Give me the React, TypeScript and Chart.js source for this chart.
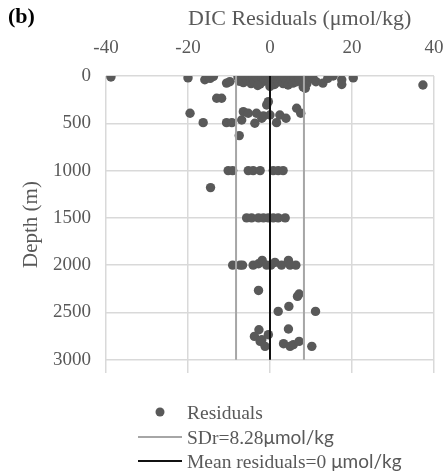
import { useEffect, useRef } from "react";
import { Chart, registerables } from "chart.js";

Chart.register(...registerables);

// DIC residuals (µmol/kg) and their sample depths (m)
const residuals = [
  -38.8, -20.0, -15.9, -14.6, -13.8, -10.6, -9.8,
  -7.8, -7.5, -7.0, -6.5, -6.0, -5.5, -5.0, -4.6, -4.2, -3.8, -3.3, -2.8, -2.4, -2.0,
  -1.5, -1.0, -0.6, -0.2, 0.3, 0.7, 1.1, 1.5, 2.0, 2.4, 2.8, 3.2, 3.6, 4.0, 4.4, 4.8,
  5.2, 5.6, 6.0, 6.5, 7.0, -3.0, 0.0,
  8.1, 8.5, 8.8, 9.0, 8.6, 9.3, 9.8, 10.5, 11.2, 12.9, 14.1, 15.4, 17.5, 17.5, 20.3, 37.3,
  -13.0, -11.8, -19.5, -16.3, -10.6, -9.3, -7.5, -6.9, -6.5, -5.3, -3.7, -3.3, -2.0, -1.6,
  -0.8, -0.4, 0.0, 1.6, 2.4, 3.9, 6.5, 7.5,
  -10.2, -9.1, -5.3, -4.1, -2.4, 0.8, 2.0, 3.2,
  -14.5,
  -5.7, -4.5, -2.8, -1.6, -0.4, 0.8, 2.0, 3.7,
  -9.1, -7.3, -6.7, -4.1, -2.8, -1.9, -0.8, 0.2, 1.2, 2.8, 4.5, 4.9, 6.3,
  -2.8, 6.7, 7.1, 4.6, 2.0, 11.1, -2.7, 4.5, -3.8, -2.0, -0.4, -2.4, -1.2, 3.3, 4.9, 5.7, 7.1, 10.2,
];
const depths = [
  10, 20, 40, 25, 5, 75, 60,
  10, 55, 30, 70, 15, 45, 5, 80, 30, 60, 10, 40, 85, 20,
  55, 5, 35, 70, 15, 50, 90, 25, 60, 5, 40, 80, 20, 55, 95, 10,
  45, 75, 25, 60, 30, 100, 110,
  115, 60, 30, 80, 130, 40, 10, 25, 60, 75, 25, 0, 40, 90, 20, 95,
  235, 235, 394, 493, 493, 493, 630, 465, 377, 394, 500, 394, 447, 422,
  306, 271, 412, 493, 412, 447, 341, 394,
  1000, 1000, 1000, 1000, 1000, 1000, 1000, 1000,
  1180,
  1500, 1500, 1500, 1500, 1500, 1500, 1500, 1500,
  2000, 2000, 2000, 2000, 1985, 1950, 2000, 2000, 1970, 2000, 1950, 2000, 2000,
  2267, 2330, 2305, 2436, 2489, 2489, 2683, 2675, 2753, 2788, 2735, 2806, 2858, 2830, 2858, 2840, 2806, 2858,
];

const xTicks = [-40, -20, 0, 20, 40];
const yTicks = [0, 500, 1000, 1500, 2000, 2500, 3000];
const sdr = 8.28;
const meanResidual = 0;
const lineDepths = [0, 3000];
const legendLabels = ["Residuals", "SDr=8.28", "Mean residuals=0 "];
const legendUnits = ["", "μmol/kg", "μmol/kg"];

const SERIF = "'Liberation Serif', 'Times New Roman', serif";
const SANS = "Lato, 'Liberation Sans', sans-serif";
const TEXT = "#595959";
const GRID = "#d9d9d9";
const SD_COLOR = "#a6a6a6";
const MEAN_COLOR = "#111111";
const POINT_COLOR = "#595959";

const textPlugin = {
  id: "textPlugin",
  afterDraw(chart: any) {
    const ctx = chart.ctx as CanvasRenderingContext2D;
    ctx.save();
    // panel label
    ctx.fillStyle = "#000";
    ctx.font = `bold 22px ${SERIF}`;
    ctx.textAlign = "left";
    ctx.textBaseline = "alphabetic";
    ctx.fillText("(b)", 8, 23);
    // axis title
    ctx.fillStyle = TEXT;
    ctx.font = `22px ${SERIF}`;
    ctx.fillText("DIC Residuals (μmol/kg)", 188, 25);

    // legend
    const rows = [412, 437, 461];
    const textX = 187;
    ctx.fillStyle = POINT_COLOR;
    ctx.beginPath();
    ctx.arc(160, rows[0], 4.5, 0, Math.PI * 2);
    ctx.fill();
    ctx.lineWidth = 2;
    ctx.strokeStyle = SD_COLOR;
    ctx.beginPath();
    ctx.moveTo(138, rows[1]);
    ctx.lineTo(182, rows[1]);
    ctx.stroke();
    ctx.strokeStyle = MEAN_COLOR;
    ctx.beginPath();
    ctx.moveTo(138, rows[2]);
    ctx.lineTo(182, rows[2]);
    ctx.stroke();

    ctx.fillStyle = TEXT;
    legendLabels.forEach((lab, i) => {
      ctx.font = `19.5px ${SERIF}`;
      const y = rows[i] + 6.5;
      ctx.fillText(lab, textX, y);
      const w = ctx.measureText(lab).width;
      if (legendUnits[i]) {
        ctx.font = `19px ${SANS}`;
        ctx.fillText(legendUnits[i], textX + w, y);
      }
    });
    ctx.restore();
  },
};

export default function App() {
  const ref = useRef<HTMLCanvasElement | null>(null);

  useEffect(() => {
    if (!ref.current) return;
    const points = residuals.map((r, i) => ({ x: r, y: depths[i] }));
    const chart = new Chart(ref.current, {
      type: "scatter",
      data: {
        datasets: [
          {
            label: "Mean residuals",
            data: lineDepths.map((d) => ({ x: meanResidual, y: d })),
            showLine: true,
            borderColor: MEAN_COLOR,
            borderWidth: 2,
            pointRadius: 0,
            order: 0,
          },
          {
            label: "SDr",
            data: lineDepths.map((d) => ({ x: -sdr, y: d })),
            showLine: true,
            borderColor: SD_COLOR,
            borderWidth: 2,
            pointRadius: 0,
            order: 1,
          },
          {
            label: "SDr+",
            data: lineDepths.map((d) => ({ x: sdr, y: d })),
            showLine: true,
            borderColor: SD_COLOR,
            borderWidth: 2,
            pointRadius: 0,
            order: 1,
          },
          {
            label: "Residuals",
            data: points,
            backgroundColor: POINT_COLOR,
            borderWidth: 0,
            pointRadius: 4.7,
            pointHoverRadius: 4.7,
            order: 3,
          },
        ],
      },
      options: {
        responsive: false,
        animation: false,
        events: [],
        layout: { padding: { left: 0, right: 13, top: 0, bottom: 98 } },
        plugins: {
          legend: { display: false },
          tooltip: { enabled: false },
          title: { display: false },
        },
        scales: {
          x: {
            type: "linear",
            position: "top",
            min: -40,
            max: 40,
            afterBuildTicks: (s: any) => {
              s.ticks = xTicks.map((v) => ({ value: v }));
            },
            afterFit: (s: any) => {
              s.height = 76;
              s.paddingLeft = 0;
              s.paddingRight = 0;
            },
            grid: { color: GRID, lineWidth: 1.5, drawTicks: false },
            border: { display: false },
            ticks: {
              padding: 17,
              color: TEXT,
              font: { family: SERIF, size: 19 },
              callback: (v: any) => String(v),
            },
          },
          y: {
            type: "linear",
            reverse: true,
            min: 0,
            max: 3140,
            afterBuildTicks: (s: any) => {
              s.ticks = yTicks.map((v) => ({ value: v }));
            },
            afterFit: (s: any) => {
              s.width = 106;
              s.paddingTop = 0;
              s.paddingBottom = 0;
            },
            grid: { color: GRID, lineWidth: 1.5, drawTicks: false },
            border: { display: false },
            ticks: {
              padding: 15,
              color: TEXT,
              font: { family: SERIF, size: 19 },
              callback: (v: any) => String(v),
            },
            title: {
              display: true,
              text: "Depth (m)",
              color: TEXT,
              font: { family: SERIF, size: 21 },
              padding: { top: 19, bottom: 0 },
            },
          },
        },
      },
      plugins: [textPlugin],
    } as any);
    return () => chart.destroy();
  }, []);

  return (
    <div style={{ position: "absolute", left: 0, top: 0, width: 447, height: 471, background: "#fff" }}>
      <canvas ref={ref} width={447} height={471} style={{ width: 447, height: 471, display: "block" }} />
    </div>
  );
}
